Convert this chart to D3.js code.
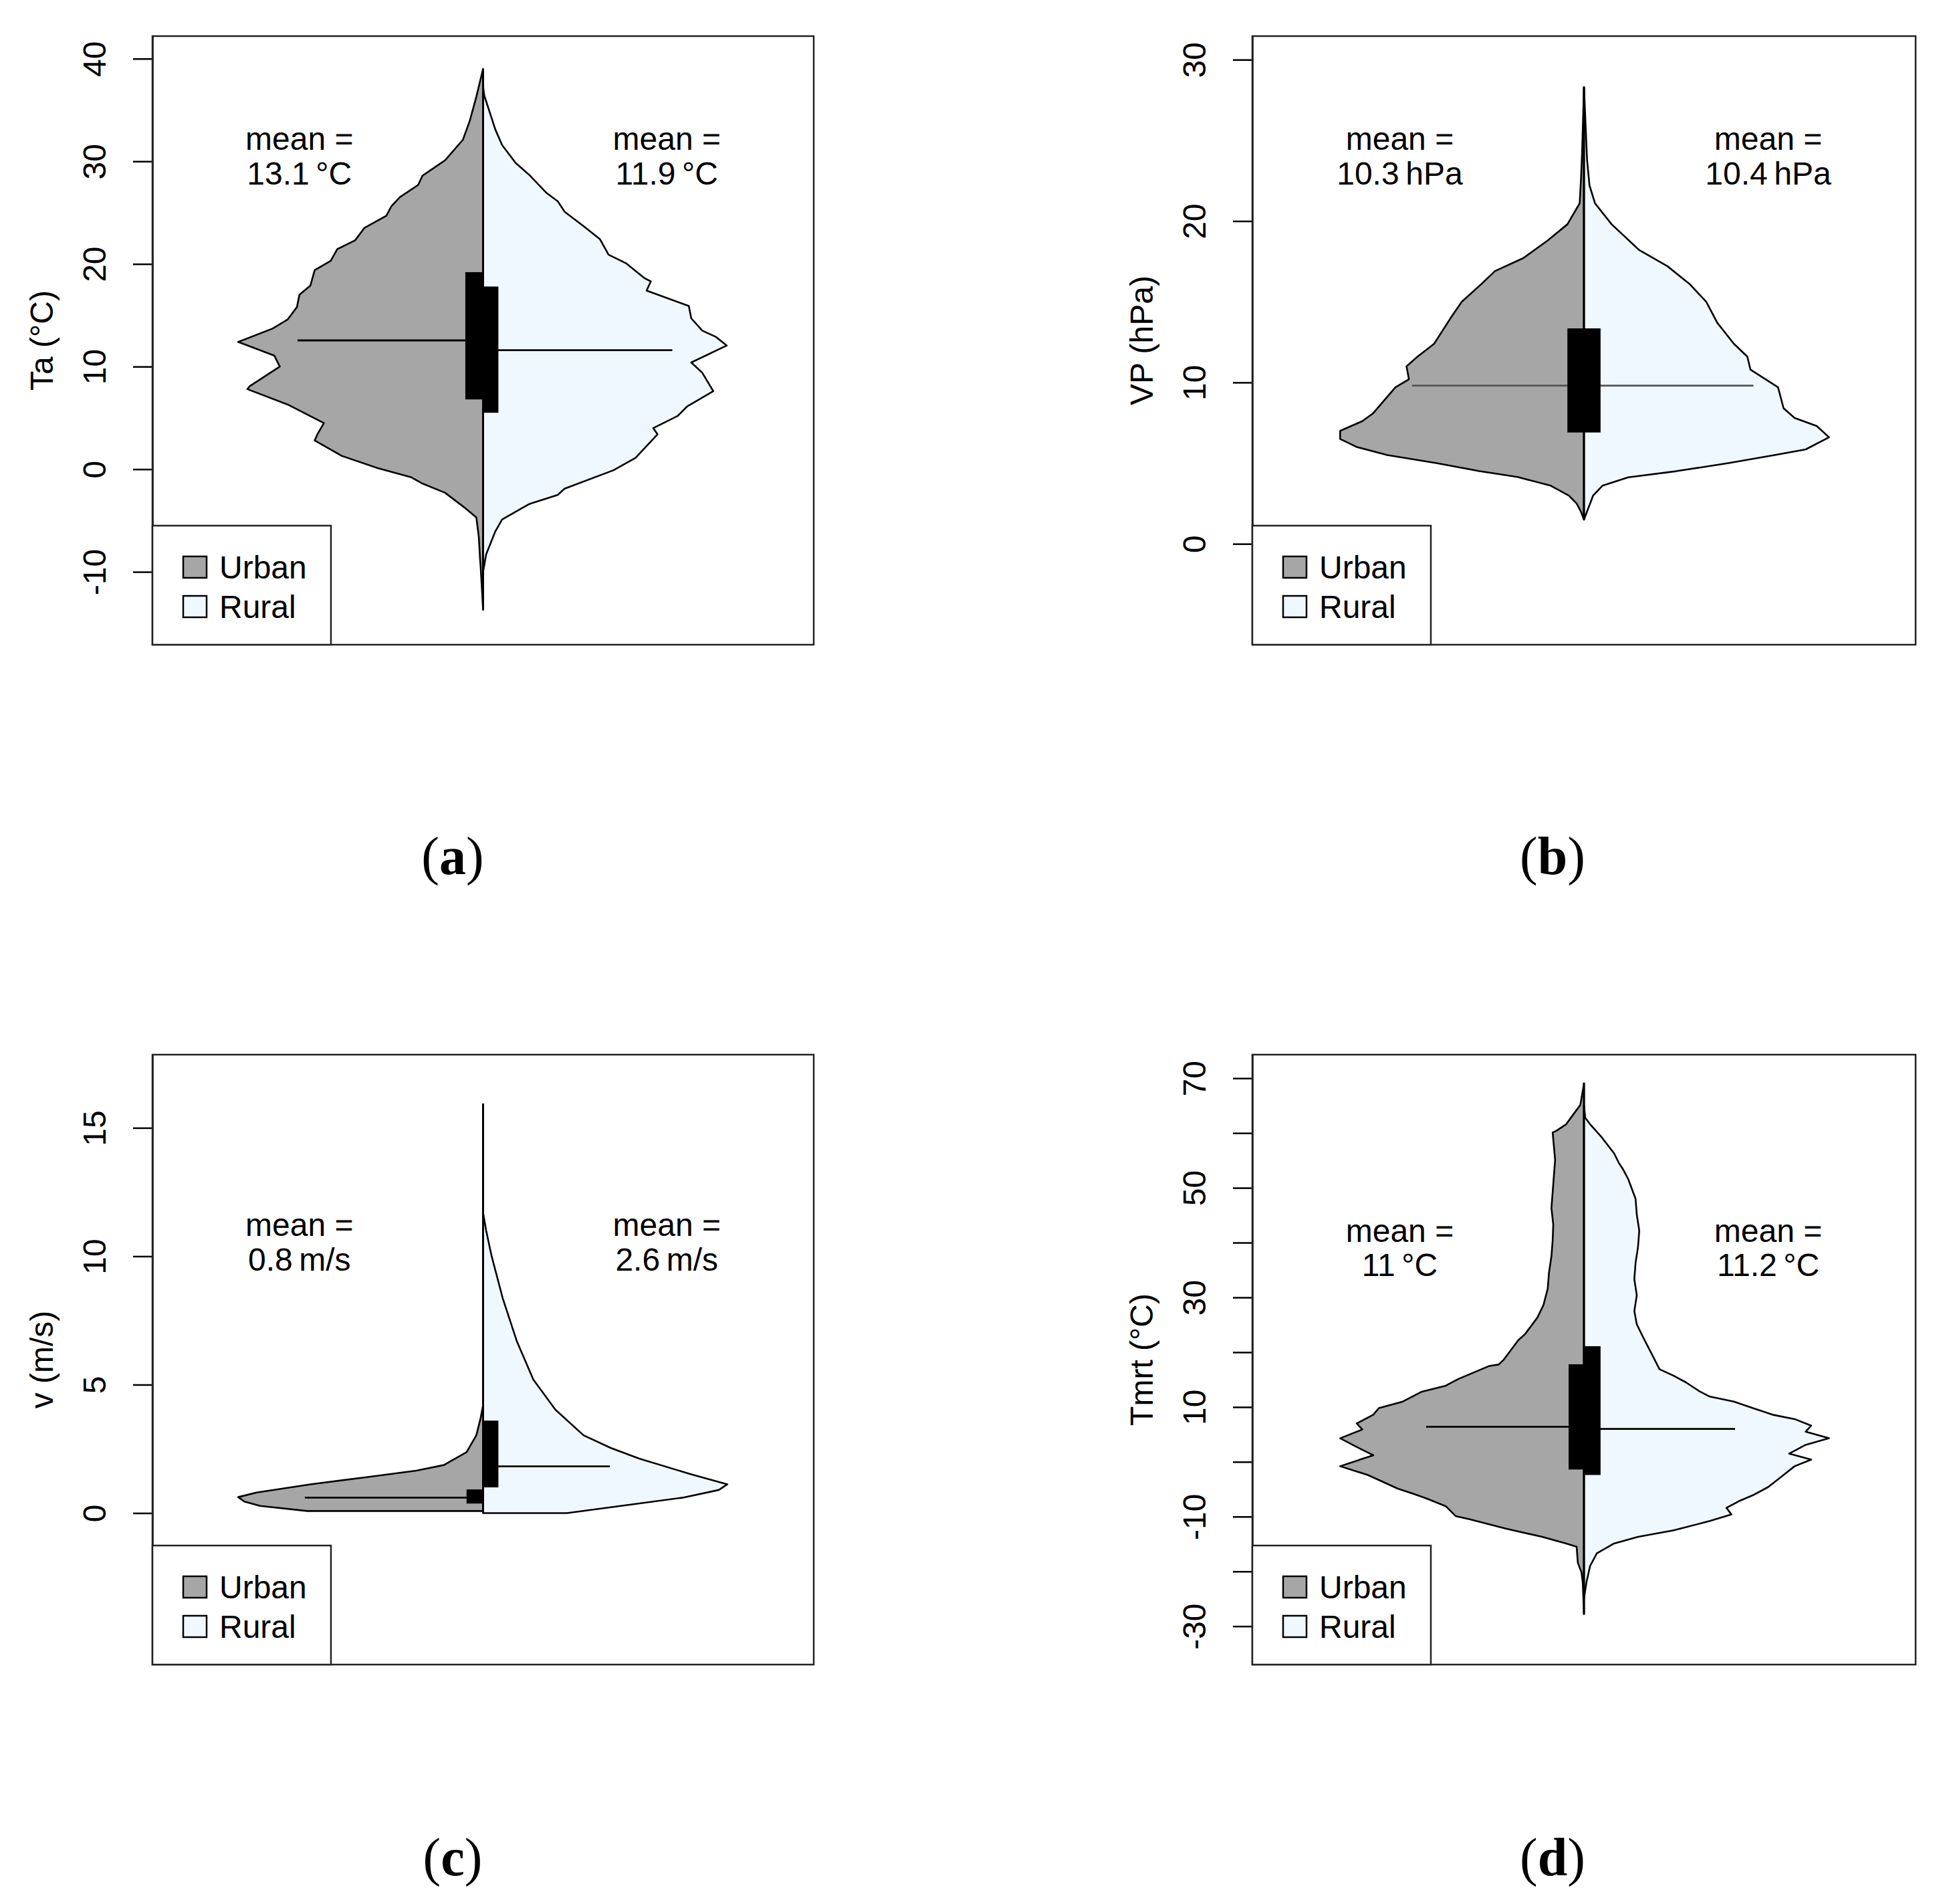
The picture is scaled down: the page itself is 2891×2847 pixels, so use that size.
<!DOCTYPE html>
<html>
<head>
<meta charset="utf-8">
<script src="https://cdn.jsdelivr.net/npm/d3@7"></script>
<style>
  body { margin: 0; background: #fff; }
  svg text { font-family: "Liberation Sans", Arial, sans-serif; fill: #000; }
</style>
</head>
<body>
<div id="chart"></div>
<script>
// half-violin outlines: [value, half width in x units]
var taUrban = [[-13.7,0],[-9.5,0.004],[-8.7,0.005],[-6.6,0.007],[-4.7,0.011],[-3.8,0.029],[-2.3,0.062],[-1.4,0.099],[-0.8,0.117],[0.1,0.172],[1.3,0.231],[2.8,0.275],[3.35,0.271],[4.5,0.26],[6.3,0.319],[7.8,0.385],[8.1,0.381],[10.0,0.332],[11.07,0.341],[12.4,0.40],[13.7,0.344],[14.6,0.319],[15.8,0.304],[17.0,0.30],[17.9,0.282],[19.4,0.275],[20.3,0.249],[21.45,0.238],[22.3,0.209],[23.5,0.194],[24.7,0.158],[25.6,0.150],[26.5,0.136],[27.7,0.106],[28.6,0.099],[30.1,0.062],[32.1,0.033],[33.9,0.022],[36.3,0.011],[39.0,0]];
var taRural = [[-10.0,0],[-8.3,0.005],[-6.06,0.020],[-4.9,0.031],[-3.4,0.075],[-2.5,0.122],[-1.9,0.133],[-0.1,0.213],[1.1,0.249],[3.4,0.285],[4.0,0.278],[5.2,0.318],[6.1,0.333],[7.6,0.376],[9.4,0.358],[10.4,0.340],[12.05,0.398],[12.9,0.380],[13.5,0.358],[14.7,0.340],[15.9,0.336],[17.4,0.267],[18.3,0.274],[18.6,0.264],[20.05,0.234],[20.9,0.205],[22.4,0.191],[23.6,0.166],[25.1,0.133],[26.1,0.122],[26.9,0.104],[28.7,0.075],[29.85,0.053],[31.6,0.031],[33.1,0.020],[36.4,0.002],[37.3,0]];

var vpUrban = [[1.5,0],[2.0,0.005],[2.5,0.012],[3.0,0.025],[3.6,0.054],[4.14,0.108],[4.5,0.17],[5.0,0.24],[5.5,0.32],[6.0,0.37],[6.5,0.397],[7.0,0.397],[7.6,0.361],[8.1,0.343],[8.9,0.325],[9.7,0.307],[10.2,0.285],[11.0,0.289],[11.6,0.271],[12.4,0.244],[14.0,0.217],[15.0,0.199],[16.1,0.167],[16.9,0.145],[17.7,0.099],[18.8,0.059],[19.8,0.027],[21.1,0.007],[22.5,0.005],[24.3,0.003],[28.3,0]];
var vpRural = [[1.5,0],[2.0,0.005],[3.0,0.015],[3.6,0.03],[4.12,0.072],[4.5,0.15],[5.0,0.235],[5.5,0.31],[5.85,0.361],[6.6,0.399],[7.3,0.379],[7.8,0.343],[8.4,0.325],[9.7,0.316],[10.8,0.271],[11.6,0.266],[12.4,0.244],[13.7,0.217],[15.0,0.199],[16.1,0.172],[17.2,0.136],[18.2,0.090],[19.8,0.045],[21.1,0.018],[22.2,0.009],[23.8,0.005],[28.3,0]];

var vUrban = [[0.08,0.287],[0.28,0.364],[0.45,0.39],[0.62,0.400],[0.8,0.37],[1.12,0.282],[1.4,0.19],[1.65,0.109],[1.87,0.064],[2.37,0.027],[3.03,0.011],[3.7,0.004],[4.2,0]];
var vRural = [[0.0,0.137],[0.28,0.225],[0.6,0.326],[0.9,0.385],[1.12,0.399],[1.53,0.337],[2.12,0.255],[2.53,0.209],[3.03,0.164],[4.03,0.118],[5.2,0.082],[6.7,0.055],[8.37,0.032],[10.0,0.014],[11.0,0.005],[11.7,0]];

var tmrtUrban = [[-27.8,0],[-22,0.002],[-20.2,0.004],[-18.4,0.010],[-15.5,0.012],[-14.9,0.029],[-13.7,0.068],[-12.2,0.127],[-10.5,0.186],[-9.9,0.209],[-8.1,0.225],[-6.7,0.256],[-5.8,0.279],[-4.9,0.303],[-2.4,0.352],[-0.8,0.397],[1.2,0.343],[2.7,0.370],[4.3,0.397],[5.9,0.361],[7.0,0.370],[8.6,0.343],[9.8,0.334],[11.0,0.295],[12.8,0.264],[13.9,0.225],[15.1,0.205],[17.5,0.154],[17.75,0.139],[18.6,0.131],[22.2,0.107],[23.3,0.096],[25.1,0.084],[26.3,0.076],[28.6,0.066],[31.6,0.059],[34.5,0.057],[37.5,0.053],[40.4,0.051],[43.3,0.050],[46.3,0.053],[49.2,0.051],[52.2,0.049],[55.1,0.047],[60.1,0.051],[60.4,0.045],[61.6,0.029],[63.3,0.018],[65.1,0.006],[69.0,0]];
var tmrtRural = [[-25.0,0],[-22,0.004],[-19.0,0.010],[-16.7,0.021],[-14.9,0.049],[-13.7,0.088],[-12.5,0.146],[-10.8,0.205],[-9.6,0.240],[-8.4,0.232],[-7.2,0.252],[-6.1,0.275],[-4.6,0.30],[-2.4,0.325],[-0.8,0.343],[0.4,0.370],[1.5,0.334],[3.1,0.361],[4.3,0.399],[5.5,0.361],[6.6,0.370],[7.8,0.343],[8.6,0.307],[9.8,0.275],[11.0,0.244],[11.9,0.205],[12.8,0.189],[14.5,0.166],[15.7,0.146],[16.9,0.123],[20.4,0.107],[22.8,0.096],[25.1,0.086],[27.5,0.082],[30.4,0.086],[33.3,0.082],[36.3,0.084],[39.2,0.088],[42.2,0.090],[45.1,0.086],[48.0,0.084],[51.6,0.072],[53.3,0.064],[54.5,0.057],[56.3,0.049],[59.2,0.029],[61.6,0.010],[62.8,0.002],[65.0,0]];

// stats: [q1, q3, box half width], [median, line length], [min, max]
var taBoxes = [[6.8, 19.2, 0.029], [5.5, 17.8, 0.025]];
var taMedians = [[12.55, 0.303], [11.6, 0.309]];
var taRange = [-13.7, 39.0];
var vpBoxes = [[6.9, 13.35, 0.027], [6.9, 13.35, 0.027]];
var vpMedians = [[9.8, 0.28], [9.8, 0.276]];
var vpRange = [1.5, 28.3];
var vBoxes = [[0.37, 0.92, 0.027], [1.0, 3.6, 0.025]];
var vMedians = [[0.6, 0.291], [1.82, 0.207]];
var vRange = [0, 15.95];
var tmrtBoxes = [[-1.4, 17.8, 0.025], [-2.4, 21.1, 0.027]];
var tmrtMedians = [[6.4, 0.257], [6.0, 0.246]];
var tmrtRange = [-27.8, 69.2];

var meanLabels = [["13.1\u2009°C", "11.9\u2009°C"], ["10.3\u2009hPa", "10.4\u2009hPa"], ["0.8\u2009m/s", "2.6\u2009m/s"], ["11\u2009°C", "11.2\u2009°C"]];
var meanY = [30.5, 24.0, 10.55, 39.0];
var yTitles = ["Ta (°C)", "VP (hPa)", "v (m/s)", "Tmrt (°C)"];
var yTicks = [[-10, 0, 10, 20, 30, 40], [0, 10, 20, 30], [0, 5, 10, 15], [-30, -20, -10, 0, 10, 20, 30, 40, 50, 60, 70]];
var yTickLabels = [[-10, 0, 10, 20, 30, 40], [0, 10, 20, 30], [0, 5, 10, 15], [70, 50, 30, 10, -10, -30]];
var yDomains = [[-17.1, 42.2], [-6.25, 31.46], [-5.9, 17.85], [-37, 74.3]];
var captions = ["a", "b", "c", "d"];
var groups = ["Urban", "Rural"];
var groupColors = ["#a6a6a6", "#f0f8ff"];

var svgWidth = 2891;
var svgHeight = 2847;

var frames = [
  {x: 228, y: 54, w: 989, h: 910},
  {x: 1873, y: 54, w: 992, h: 910},
  {x: 228, y: 1577, w: 989, h: 912},
  {x: 1873, y: 1577, w: 992, h: 912}
];
var captionPos = [[677, 1307], [2322, 1307], [677, 2804], [2322, 2804]];

var panels = [
  {urban: taUrban, rural: taRural, boxes: taBoxes, medians: taMedians, range: taRange, medColor: "#000"},
  {urban: vpUrban, rural: vpRural, boxes: vpBoxes, medians: vpMedians, range: vpRange, medColor: "#555"},
  {urban: vUrban, rural: vRural, boxes: vBoxes, medians: vMedians, range: vRange, medColor: "#000"},
  {urban: tmrtUrban, rural: tmrtRural, boxes: tmrtBoxes, medians: tmrtMedians, range: tmrtRange, medColor: "#000"}
];

var svg = d3.select("#chart")
  .append("svg")
  .attr("width", svgWidth)
  .attr("height", svgHeight);

svg.append("rect").attr("width", svgWidth).attr("height", svgHeight).attr("fill", "#fff");

panels.forEach(function(p, i) {
  var f = frames[i];
  var g = svg.append("g");

  var x = d3.scaleLinear().domain([0.46, 1.54]).range([f.x, f.x + f.w]);
  var y = d3.scaleLinear().domain(yDomains[i]).range([f.y + f.h, f.y]);

  // violins, left half urban, right half rural
  var leftArea = d3.area()
    .y(d => y(d[0]))
    .x0(x(1))
    .x1(d => x(1 - d[1]));
  var rightArea = d3.area()
    .y(d => y(d[0]))
    .x0(x(1))
    .x1(d => x(1 + d[1]));

  g.append("path")
    .attr("d", leftArea(p.urban))
    .attr("fill", groupColors[0])
    .attr("stroke", "#000")
    .attr("stroke-width", 2.6)
    .attr("stroke-linejoin", "round");

  g.append("path")
    .attr("d", rightArea(p.rural))
    .attr("fill", groupColors[1])
    .attr("stroke", "#000")
    .attr("stroke-width", 2.6)
    .attr("stroke-linejoin", "round");

  // whisker line
  g.append("line")
    .attr("x1", x(1)).attr("x2", x(1))
    .attr("y1", y(p.range[0])).attr("y2", y(p.range[1]))
    .attr("stroke", "#000")
    .attr("stroke-width", 3);

  // median lines
  g.append("line")
    .attr("x1", x(1 - p.medians[0][1])).attr("x2", x(1))
    .attr("y1", y(p.medians[0][0])).attr("y2", y(p.medians[0][0]))
    .attr("stroke", p.medColor).attr("stroke-width", 2.8);
  g.append("line")
    .attr("x1", x(1)).attr("x2", x(1 + p.medians[1][1]))
    .attr("y1", y(p.medians[1][0])).attr("y2", y(p.medians[1][0]))
    .attr("stroke", p.medColor).attr("stroke-width", 2.8);

  // quartile boxes
  g.append("rect")
    .attr("x", x(1 - p.boxes[0][2]))
    .attr("y", y(p.boxes[0][1]))
    .attr("width", x(1) - x(1 - p.boxes[0][2]))
    .attr("height", y(p.boxes[0][0]) - y(p.boxes[0][1]))
    .attr("fill", "#000");
  g.append("rect")
    .attr("x", x(1))
    .attr("y", y(p.boxes[1][1]))
    .attr("width", x(1 + p.boxes[1][2]) - x(1))
    .attr("height", y(p.boxes[1][0]) - y(p.boxes[1][1]))
    .attr("fill", "#000");

  // mean texts
  [0.70, 1.30].forEach(function(tx, k) {
    var t = g.append("text")
      .attr("x", x(tx))
      .attr("y", y(meanY[i]))
      .attr("text-anchor", "middle")
      .attr("font-size", 48);
    t.append("tspan").attr("x", x(tx)).attr("dy", "-0.2em").text("mean =");
    t.append("tspan").attr("x", x(tx)).attr("dy", "1.08em").text(meanLabels[i][k]);
  });

  // y axis
  var labelSet = yTickLabels[i];
  var axis = d3.axisLeft(y)
    .tickValues(yTicks[i])
    .tickSize(29)
    .tickSizeOuter(0)
    .tickPadding(0)
    .tickFormat(d => labelSet.indexOf(d) >= 0 ? d : "");

  var ax = g.append("g")
    .attr("transform", `translate(${f.x},0)`)
    .call(axis);
  ax.select(".domain").attr("stroke", "#000").attr("stroke-width", 2.5);
  ax.selectAll(".tick line").attr("stroke", "#000").attr("stroke-width", 2.5);
  ax.selectAll(".tick text")
    .attr("font-size", 48)
    .attr("font-family", "Liberation Sans, Arial, sans-serif")
    .attr("fill", "#000")
    .attr("text-anchor", "middle")
    .attr("transform", "rotate(-90)")
    .attr("x", 0)
    .attr("y", -87)
    .attr("dy", "0.35em");

  g.append("text")
    .attr("transform", `translate(${f.x - 166}, ${f.y + f.h / 2}) rotate(-90)`)
    .attr("text-anchor", "middle")
    .attr("dy", "0.35em")
    .attr("font-size", 48)
    .text(yTitles[i]);

  // frame
  g.append("rect")
    .attr("x", f.x).attr("y", f.y)
    .attr("width", f.w).attr("height", f.h)
    .attr("fill", "none")
    .attr("stroke", "#222")
    .attr("stroke-width", 2.5);

  // legend, bottom left
  var lg = g.append("g").attr("transform", `translate(${f.x},${f.y + f.h - 178})`);
  lg.append("rect")
    .attr("width", 267).attr("height", 178)
    .attr("fill", "#fff")
    .attr("stroke", "#222")
    .attr("stroke-width", 2.5);
  groups.forEach(function(name, k) {
    lg.append("rect")
      .attr("x", 46).attr("y", 46 + k * 59)
      .attr("width", 35).attr("height", 32)
      .attr("fill", groupColors[k])
      .attr("stroke", "#000")
      .attr("stroke-width", 2.5);
    lg.append("text")
      .attr("x", 100).attr("y", 62 + k * 59)
      .attr("dy", "0.35em")
      .attr("font-size", 48)
      .text(name);
  });

  // caption
  var cap = svg.append("text")
    .attr("x", captionPos[i][0])
    .attr("y", captionPos[i][1])
    .attr("text-anchor", "middle")
    .attr("font-size", 80)
    .style("font-family", "'Liberation Serif', 'Times New Roman', serif");
  cap.append("tspan").text("(");
  cap.append("tspan").attr("font-weight", "bold").text(captions[i]);
  cap.append("tspan").text(")");
});
</script>
</body>
</html>
